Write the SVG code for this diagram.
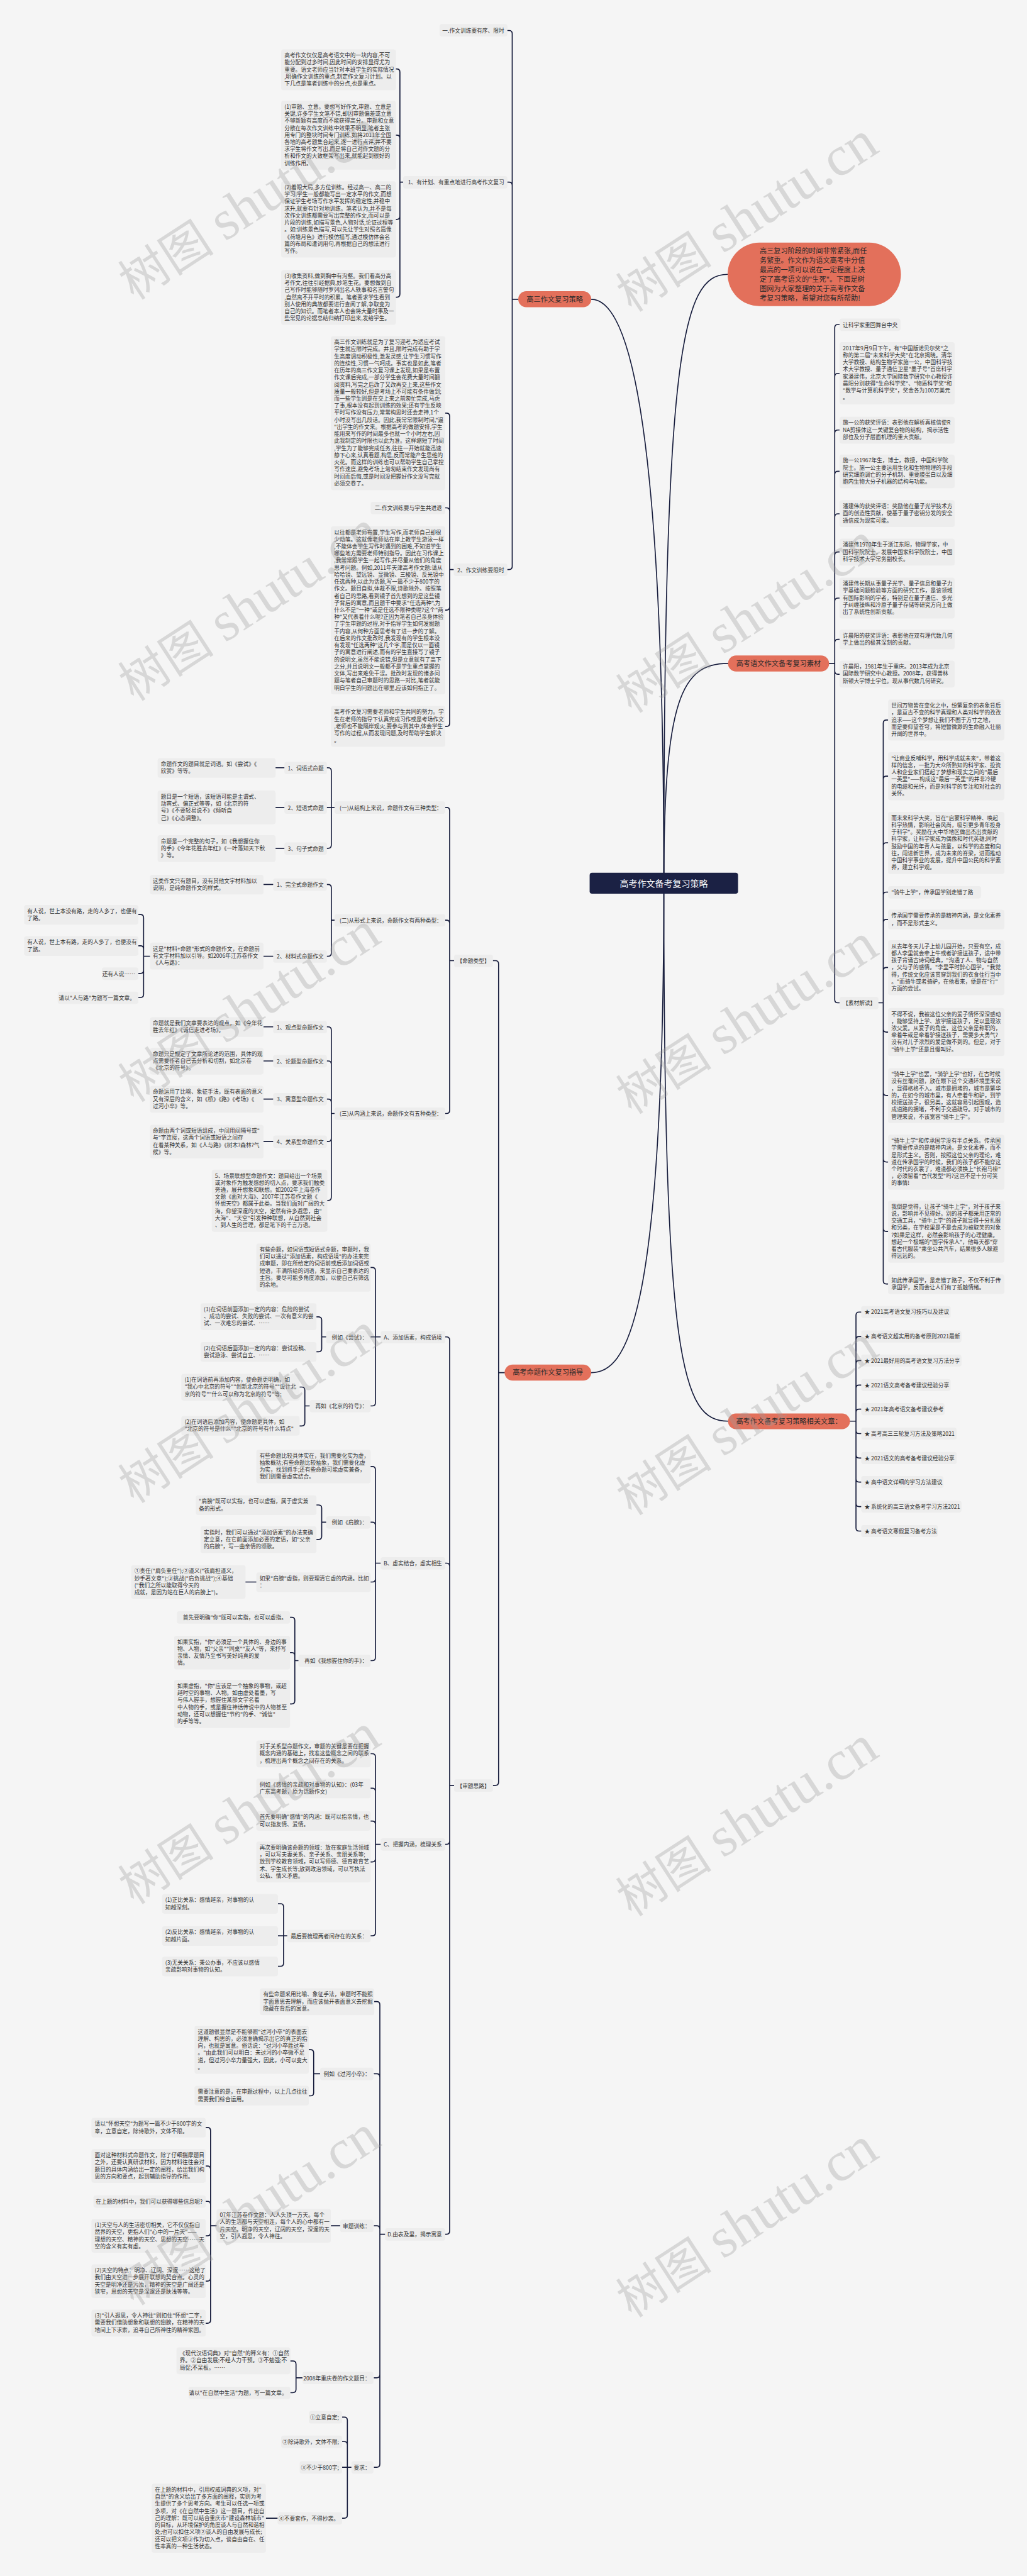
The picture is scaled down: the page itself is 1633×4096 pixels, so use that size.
<svg xmlns="http://www.w3.org/2000/svg" width="1633" height="4096" viewBox="0 0 1633 4096">
<defs>
<style>
.t{font-family:"Noto Sans CJK SC","Noto Sans",sans-serif;font-size:13.7px;fill:#333}
.e{text-anchor:end}
.tb{fill:#ededed}
.nd{fill:#e3705b}
.nt{font-family:"Noto Sans CJK SC","Noto Sans",sans-serif;font-size:17.6px;fill:#2a2a2a;text-anchor:middle}
.ln path{fill:none;stroke:#161c3c;stroke-width:2.6;stroke-linecap:round}
.wm{fill:#9a9a9a;fill-opacity:0.33}
.wc{font-family:"Noto Sans CJK SC",sans-serif;font-size:120px}
.ws{font-family:"Liberation Serif",serif;font-size:140px}
</style>
</defs>
<rect width="1633" height="4096" fill="#f5f5f5"/>
<g transform="scale(0.6378)">
<g id="connectors" class="ln">
<path d="M1655 2202C1655 1000 1560 746 1474 746"/>
<path d="M1655 2202C1655 3300 1560 3422 1474 3422"/>
<path d="M1655 2202C1655 880 1700 684 1814 684"/>
<path d="M1655 2202C1655 1740 1700 1654 1815 1654"/>
<path d="M1655 2202C1655 3400 1700 3543 1815 3543"/>
<path d="M1292 746H1277V84Q1277 76 1269 76H1265M1292 746H1277V462Q1277 454 1269 454H1265M1292 746H1277V1412Q1277 1420 1269 1420H1265"/>
<path d="M1005 454H997V180Q997 172 989 172H987M1005 454H997V345Q997 337 989 337H987M1005 454H997V539Q997 547 989 547H987M1005 454H997V733Q997 741 989 741H987"/>
<path d="M1131 1420H1121V1038Q1121 1030 1113 1030H1110M1131 1420H1121V1274Q1121 1266 1113 1266H1110M1131 1420H1121V1513Q1121 1521 1113 1521H1110M1131 1420H1121V1803Q1121 1811 1113 1811H1110"/>
<path d="M1258 3422H1243V2403Q1243 2395 1235 2395H1229M1258 3422H1243V4443Q1243 4451 1235 4451H1229"/>
<path d="M1132 2395H1121V2021Q1121 2013 1113 2013H1110M1132 2395H1121V2302Q1121 2294 1113 2294H1110M1132 2395H1121V2768Q1121 2776 1113 2776H1110"/>
<path d="M834 2013H826V1922Q826 1914 818 1914H815M834 2013H815M834 2013H826V2107Q826 2115 818 2115H815"/>
<path d="M834 2294H826V2213Q826 2205 818 2205H815M834 2294H826V2376Q826 2384 818 2384H815"/>
<path d="M834 2776H826V2568Q826 2560 818 2560H815M834 2776H826V2653Q826 2645 818 2645H815M834 2776H826V2748Q826 2740 818 2740H815M834 2776H826V2838Q826 2846 818 2846H815M834 2776H826V2985Q826 2993 818 2993H816"/>
<path d="M709 1914H687M709 2013H687M709 2115H687M681 2205H657M681 2384H657M681 2560H657M681 2645H657M681 2740H657M681 2846H657"/>
<path d="M374 2384H358V2288Q358 2280 350 2280H345M374 2384H358V2366Q358 2358 350 2358H345M374 2384H358V2419Q358 2427 350 2427H345M374 2384H358V2479Q358 2487 350 2487H345"/>
<path d="M1132 4451H1121V3341Q1121 3333 1113 3333H1110M1132 4451H1121V3905Q1121 3897 1113 3897H1110M1132 4451H1121V4590Q1121 4598 1113 4598H1110M1132 4451H1121V5562Q1121 5570 1113 5570H1110"/>
<path d="M949 3333H936V3168Q936 3160 928 3160H924M949 3333H924M949 3333H936V3497Q936 3505 928 3505H924"/>
<path d="M813 3333H802V3291Q802 3283 794 3283H789M813 3333H802V3362Q802 3370 794 3370H789"/>
<path d="M772 3505H760V3466Q760 3458 752 3458H747M772 3505H760V3547Q760 3555 752 3555H747"/>
<path d="M949 3897H936V3664Q936 3656 928 3656H924M949 3897H936V3803Q936 3795 928 3795H924M949 3897H936V3936Q936 3944 928 3944H924M949 3897H936V4132Q936 4140 928 4140H924"/>
<path d="M813 3795H802V3760Q802 3752 794 3752H789M813 3795H802V3830Q802 3838 794 3838H789M639 3944H612"/>
<path d="M744 4140H735V4040Q735 4032 727 4032H723M744 4140H735V4128Q735 4120 727 4120H723M744 4140H735V4240Q735 4248 727 4248H723"/>
<path d="M949 4598H936V4380Q936 4372 928 4372H924M949 4598H936V4466Q936 4458 928 4458H924M949 4598H936V4548Q936 4540 928 4540H924M949 4598H936V4634Q936 4642 928 4642H924M949 4598H936V4818Q936 4826 928 4826H924"/>
<path d="M717 4826H707V4754Q707 4746 699 4746H693M717 4826H693M717 4826H707V4894Q707 4902 699 4902H693"/>
<path d="M960 5570H947V4998Q947 4990 939 4990H933M960 5570H947V5178Q947 5170 939 5170H933M960 5570H947V5557Q947 5549 939 5549H933M960 5570H947V5920Q947 5928 939 5928H933M960 5570H947V6143Q947 6151 939 6151H933"/>
<path d="M798 5170H782V5118Q782 5110 774 5110H770M798 5170H782V5217Q782 5225 774 5225H770M848 5549H825"/>
<path d="M540 5549H525V5312Q525 5304 517 5304H513M540 5549H525V5408Q525 5400 517 5400H513M540 5549H525V5496Q525 5488 517 5488H513M540 5549H525V5566Q525 5574 517 5574H513M540 5549H525V5679Q525 5687 517 5687H513M540 5549H525V5784Q525 5792 517 5792H513"/>
<path d="M754 5928H738V5894Q738 5886 730 5886H724M754 5928H738V5957Q738 5965 730 5965H724"/>
<path d="M876 6151H866V6034Q866 6026 858 6026H853M876 6151H866V6095Q866 6087 858 6087H853M876 6151H853M876 6151H866V6270Q866 6278 858 6278H853M692 6278H663"/>
<path d="M2067 1654H2081V817Q2081 809 2089 809H2093M2067 1654H2081V939Q2081 931 2089 931H2093M2067 1654H2081V1080Q2081 1072 2089 1072H2093M2067 1654H2081V1183Q2081 1175 2089 1175H2093M2067 1654H2081V1289Q2081 1281 2089 1281H2093M2067 1654H2081V1384Q2081 1376 2089 1376H2093M2067 1654H2081V1499Q2081 1491 2089 1491H2093M2067 1654H2081V1602Q2081 1594 2089 1594H2093M2067 1654H2081V1673Q2081 1681 2089 1681H2093M2067 1654H2081V2492Q2081 2500 2089 2500H2093"/>
<path d="M2190 2500H2202V1803Q2202 1795 2210 1795H2214M2190 2500H2202V1943Q2202 1935 2210 1935H2214M2190 2500H2202V2109Q2202 2101 2210 2101H2214M2190 2500H2202V2232Q2202 2224 2210 2224H2214M2190 2500H2202V2300Q2202 2292 2210 2292H2214M2190 2500H2202V2420Q2202 2412 2210 2412H2214M2190 2500H2202V2565Q2202 2573 2210 2573H2214M2190 2500H2202V2723Q2202 2731 2210 2731H2214M2190 2500H2202V2889Q2202 2897 2210 2897H2214M2190 2500H2202V3062Q2202 3070 2210 3070H2214M2190 2500H2202V3193Q2202 3201 2210 3201H2214"/>
<path d="M2119 3543H2134V3279Q2134 3271 2142 3271H2147M2119 3543H2134V3340Q2134 3332 2142 3332H2147M2119 3543H2134V3400Q2134 3392 2142 3392H2147M2119 3543H2134V3461Q2134 3453 2142 3453H2147M2119 3543H2134V3521Q2134 3513 2142 3513H2147M2119 3543H2134V3566Q2134 3574 2142 3574H2147M2119 3543H2134V3627Q2134 3635 2142 3635H2147M2119 3543H2134V3687Q2134 3695 2142 3695H2147M2119 3543H2134V3748Q2134 3756 2142 3756H2147M2119 3543H2134V3809Q2134 3817 2142 3817H2147"/>
</g>

<g id="root"><rect x="1470" y="2176" width="370" height="52" rx="6" fill="#1b2144"/><text x="1655" y="2210" style="font-family:'Noto Sans CJK SC',sans-serif;font-size:22px;fill:#fff;text-anchor:middle">高考作文备考复习策略</text></g>

<g id="n-gaosan"><rect class="nd" x="1292" y="726" width="182" height="40" rx="20"/><text class="nt" x="1383" y="752">高三作文复习策略</text></g>
<g id="n-yi"><rect class="tb" x="1096" y="60" width="169" height="31" rx="6"/><text class="t e" x="1257" y="81">一.作文训练要有序、限时</text></g>
<g id="n-1plan"><rect class="tb" x="1005" y="439" width="260" height="31" rx="6"/><text class="t e" x="1257" y="460">1、有计划、有重点地进行高考作文复习</text></g>
<g id="n-A1"><rect class="tb" x="701" y="123" width="286" height="102" rx="6"/><text class="t" x="709" y="143"><tspan x="709">高考作文仅仅是高考语文中的一块内容,不可</tspan><tspan x="709" dy="17.6">能分配到过多时间,因此时间的安排显得尤为</tspan><tspan x="709" dy="17.6">重要。语文老师应当针对本班学生的实际情况</tspan><tspan x="709" dy="17.6">,明确作文训练的重点,制定作文复习计划。以</tspan><tspan x="709" dy="17.6">下几点是笔者训练中的分点,也是重点。</tspan></text></g>
<g id="n-B1"><rect class="tb" x="701" y="251" width="286" height="172" rx="6"/><text class="t" x="709" y="271"><tspan x="709">(1)审题、立意。要想写好作文,审题、立意是</tspan><tspan x="709" dy="17.6">关键,许多学生文笔不错,却因审题偏差或立意</tspan><tspan x="709" dy="17.6">不够新颖有高度而不能获得高分。审题和立意</tspan><tspan x="709" dy="17.6">分散在每次作文训练中效果不明显,笔者主张</tspan><tspan x="709" dy="17.6">用专门的整块时间专门训练,如将2011年全国</tspan><tspan x="709" dy="17.6">各地的高考题集合起来,逐一进行点评,并不要</tspan><tspan x="709" dy="17.6">求学生将作文写出,而是将自己对作文题的分</tspan><tspan x="709" dy="17.6">析和作文的大致框架写出来,就能起到很好的</tspan><tspan x="709" dy="17.6">训练作用。</tspan></text></g>
<g id="n-C1"><rect class="tb" x="701" y="452" width="286" height="190" rx="6"/><text class="t" x="709" y="472"><tspan x="709">(2)着眼大局,多方位训练。经过高一、高二的</tspan><tspan x="709" dy="17.6">学习,学生一般都能写出一定水平的作文,而想</tspan><tspan x="709" dy="17.6">保证学生考场写作水平发挥的稳定性,并稳中</tspan><tspan x="709" dy="17.6">求升,就要有针对地训练。笔者认为,并不是每</tspan><tspan x="709" dy="17.6">次作文训练都需要写出完整的作文,而可以是</tspan><tspan x="709" dy="17.6">片段的训练,如描写景色,人物对话,论证过程等</tspan><tspan x="709" dy="17.6">。如:训练景色描写,可以先让学生对照名篇像</tspan><tspan x="709" dy="17.6">《荷塘月色》进行模仿描写,通过模仿体会名</tspan><tspan x="709" dy="17.6">篇的布局和遣词用句,再根据自己的想法进行</tspan><tspan x="709" dy="17.6">写作。</tspan></text></g>
<g id="n-D1"><rect class="tb" x="701" y="673" width="286" height="137" rx="6"/><text class="t" x="709" y="693"><tspan x="709">(3)收集资料,做到胸中有沟壑。我们看高分高</tspan><tspan x="709" dy="17.6">考作文,往往引经据典,妙笔生花。要想做到自</tspan><tspan x="709" dy="17.6">己写作时能够随时罗列出名人轶事和名言警句</tspan><tspan x="709" dy="17.6">,自然离不开平时的积累。笔者要求学生看到</tspan><tspan x="709" dy="17.6">别人使用的典故都要进行查阅了解,争取变为</tspan><tspan x="709" dy="17.6">自己的知识。而笔者本人也会将大量时事及一</tspan><tspan x="709" dy="17.6">些常见的论据总结归纳打印出来,发给学生。</tspan></text></g>
<g id="n-2limit"><rect class="tb" x="1131" y="1405" width="134" height="31" rx="6"/><text class="t e" x="1257" y="1426">2、作文训练要限时</text></g>
<g id="n-E1"><rect class="tb" x="825" y="838" width="285" height="384" rx="6"/><text class="t" x="833" y="858"><tspan x="833">高三作文训练就是为了复习迎考,为适应考试</tspan><tspan x="833" dy="17.6">学生就应限时完成。并且,限时完成有助于学</tspan><tspan x="833" dy="17.6">生高度调动积极性,激发灵感,让学生习惯写作</tspan><tspan x="833" dy="17.6">的连续性,习惯一气呵成。事实也是如此,笔者</tspan><tspan x="833" dy="17.6">在历年的高三作文复习课上发现,如果是布置</tspan><tspan x="833" dy="17.6">作文课后完成,一部分学生会花费大量时间翻</tspan><tspan x="833" dy="17.6">阅资料,写完之后改了又改再交上来,这些作文</tspan><tspan x="833" dy="17.6">质量一般较好,但是考场上不可能有条件做到;</tspan><tspan x="833" dy="17.6">而一些学生则是在交上来之前匆忙完成,马虎</tspan><tspan x="833" dy="17.6">了事,根本没有起到训练的效果;还有学生反映</tspan><tspan x="833" dy="17.6">平时写作没有压力,常常构思时还会走神,1个</tspan><tspan x="833" dy="17.6">小时没写出几段话。因此,我常常限制时间,"逼</tspan><tspan x="833" dy="17.6">"出学生的作文来。根据高考的做题安排,学生</tspan><tspan x="833" dy="17.6">能用来写作的时间最多也就一个小时左右,因</tspan><tspan x="833" dy="17.6">此我制定的时限也以此为准。这样缩短了时间</tspan><tspan x="833" dy="17.6">,学生为了能够完成任务,往往一开始就能迅速</tspan><tspan x="833" dy="17.6">静下心来,认真看题,构思,反而常能产生思维的</tspan><tspan x="833" dy="17.6">火花。而这样的训练也可以帮助学生自己掌控</tspan><tspan x="833" dy="17.6">写作速度,避免考场上匆匆结束作文发现尚有</tspan><tspan x="833" dy="17.6">时间而后悔,或是时间没把握好作文没写完就</tspan><tspan x="833" dy="17.6">必须交卷了。</tspan></text></g>
<g id="n-er"><rect class="tb" x="924" y="1251" width="186" height="31" rx="6"/><text class="t e" x="1102" y="1272">二.作文训练要与学生共进退</text></g>
<g id="n-F1"><rect class="tb" x="825" y="1312" width="285" height="419" rx="6"/><text class="t" x="833" y="1332"><tspan x="833">以往都是老师布置,学生写作,而老师自己却很</tspan><tspan x="833" dy="17.6">少动笔。这就像老师站在岸上教学生游泳一样</tspan><tspan x="833" dy="17.6">,不能体会学生写作时遇到的困难,不知道学生</tspan><tspan x="833" dy="17.6">哪些地方需要老师特别指导。因此在习作课上</tspan><tspan x="833" dy="17.6">,我常常跟学生一起写作,并尽量从他们的角度</tspan><tspan x="833" dy="17.6">思考问题。例如,2011年天津高考作文题:请从</tspan><tspan x="833" dy="17.6">哈哈镜、望远镜、显微镜、三棱镜、反光镜中</tspan><tspan x="833" dy="17.6">任选两种,以此为话题,写一篇不少于800字的</tspan><tspan x="833" dy="17.6">作文。题目自拟,体裁不限,诗歌除外。按照笔</tspan><tspan x="833" dy="17.6">者自己的思路,看到镜子首先想到的是这些镜</tspan><tspan x="833" dy="17.6">子背后的寓意,而且题干中要求"任选两种",为</tspan><tspan x="833" dy="17.6">什么不是"一种"或是任选不限种类呢?这个"两</tspan><tspan x="833" dy="17.6">种"又代表着什么呢?正因为笔者自己亲身体验</tspan><tspan x="833" dy="17.6">了学生审题的过程,对于指导学生如何发掘题</tspan><tspan x="833" dy="17.6">干内容,从何种方面思考有了进一步的了解。</tspan><tspan x="833" dy="17.6">在后来的作文批改时,我发现有的学生根本没</tspan><tspan x="833" dy="17.6">有发现"任选两种"这几个字,而是仅以一面镜</tspan><tspan x="833" dy="17.6">子的寓意进行阐述,而有的学生直接写了镜子</tspan><tspan x="833" dy="17.6">的说明文,虽然不能说错,但是立意就有了高下</tspan><tspan x="833" dy="17.6">之分,并且说明文一般都不是学生重点掌握的</tspan><tspan x="833" dy="17.6">文体,写出来难免干涩。批改时发现的诸多问</tspan><tspan x="833" dy="17.6">题与笔者自己审题时的思路一对比,笔者就能</tspan><tspan x="833" dy="17.6">明白学生的问题出在哪里,应该如何指正了。</tspan></text></g>
<g id="n-G1"><rect class="tb" x="825" y="1760" width="285" height="102" rx="6"/><text class="t" x="833" y="1780"><tspan x="833">高考作文复习需要老师和学生共同的努力。学</tspan><tspan x="833" dy="17.6">生在老师的指导下认真完成习作或是考场作文</tspan><tspan x="833" dy="17.6">,老师也不能隔岸观火,要参与到其中,体会学生</tspan><tspan x="833" dy="17.6">写作的过程,从而发现问题,及时帮助学生解决</tspan><tspan x="833" dy="17.6">。</tspan></text></g>

<g id="n-mingti"><rect class="nd" x="1258" y="3402" width="216" height="40" rx="20"/><text class="nt" x="1366" y="3428">高考命题作文复习指导</text></g>
<g id="n-lx"><rect class="tb" x="1132" y="2380" width="97" height="31" rx="6"/><text class="t e" x="1221" y="2401">【命题类型】</text></g>
<g id="n-s1"><rect class="tb" x="834" y="1998" width="276" height="31" rx="6"/><text class="t e" x="1102" y="2019">(一)从结构上来说，命题作文有三种类型：</text></g>
<g id="n-s2"><rect class="tb" x="834" y="2279" width="276" height="31" rx="6"/><text class="t e" x="1102" y="2300">(二)从形式上来说，命题作文有两种类型：</text></g>
<g id="n-s3"><rect class="tb" x="834" y="2761" width="276" height="31" rx="6"/><text class="t e" x="1102" y="2782">(三)从内涵上来说，命题作文有五种类型：</text></g>
<g id="n-ci"><rect class="tb" x="709" y="1899" width="106" height="31" rx="6"/><text class="t e" x="807" y="1920">1、词语式命题</text></g>
<g id="n-duan"><rect class="tb" x="709" y="1998" width="106" height="31" rx="6"/><text class="t e" x="807" y="2019">2、短语式命题</text></g>
<g id="n-ju"><rect class="tb" x="709" y="2100" width="106" height="31" rx="6"/><text class="t e" x="807" y="2121">3、句子式命题</text></g>
<g id="n-ci-t"><rect class="tb" x="393" y="1890" width="294" height="49" rx="6"/><text class="t" x="401" y="1910"><tspan x="401">命题作文的题目就是词语。如《尝试》《</tspan><tspan x="401" dy="17.6">欣赏》等等。</tspan></text></g>
<g id="n-duan-t"><rect class="tb" x="393" y="1971" width="294" height="84" rx="6"/><text class="t" x="401" y="1991"><tspan x="401">题目是一个短语，该短语可能是主谓式、</tspan><tspan x="401" dy="17.6">动宾式、偏正式等等，如《北京的符</tspan><tspan x="401" dy="17.6">号》《不要轻易说不》《倾听自</tspan><tspan x="401" dy="17.6">己》《心态调整》。</tspan></text></g>
<g id="n-ju-t"><rect class="tb" x="393" y="2082" width="294" height="67" rx="6"/><text class="t" x="401" y="2102"><tspan x="401">命题是一个完整的句子，如《我想握住你</tspan><tspan x="401" dy="17.6">的手》《今年花胜去年红》《一叶落知天下秋</tspan><tspan x="401" dy="17.6">》等。</tspan></text></g>
<g id="n-wq"><rect class="tb" x="681" y="2190" width="134" height="31" rx="6"/><text class="t e" x="807" y="2211">1、完全式命题作文</text></g>
<g id="n-wq-t"><rect class="tb" x="374" y="2181" width="283" height="49" rx="6"/><text class="t" x="381" y="2201"><tspan x="381">这类作文只有题目，没有其他文字材料加以</tspan><tspan x="381" dy="17.6">说明，是纯命题作文的样式。</tspan></text></g>
<g id="n-cl"><rect class="tb" x="681" y="2369" width="134" height="31" rx="6"/><text class="t e" x="807" y="2390">2、材料式命题作文</text></g>
<g id="n-cl-t"><rect class="tb" x="374" y="2350" width="283" height="67" rx="6"/><text class="t" x="381" y="2370"><tspan x="381">这是"材料+命题"形式的命题作文，在命题前</tspan><tspan x="381" dy="17.6">有文字材料加以引导。如2006年江苏卷作文</tspan><tspan x="381" dy="17.6">《人与路》：</tspan></text></g>
<g id="n-lu1"><rect class="tb" x="60" y="2256" width="285" height="49" rx="6"/><text class="t" x="68" y="2276"><tspan x="68">有人说，世上本没有路，走的人多了，也便有</tspan><tspan x="68" dy="17.6">了路。</tspan></text></g>
<g id="n-lu2"><rect class="tb" x="60" y="2334" width="285" height="49" rx="6"/><text class="t" x="68" y="2354"><tspan x="68">有人说，世上本有路，走的人多了，也便没有</tspan><tspan x="68" dy="17.6">了路。</tspan></text></g>
<g id="n-lu3"><rect class="tb" x="254" y="2412" width="91" height="31" rx="6"/><text class="t e" x="337" y="2433">还有人说……</text></g>
<g id="n-lu4"><rect class="tb" x="144" y="2472" width="201" height="31" rx="6"/><text class="t e" x="337" y="2493">请以"人与路"为题写一篇文章。</text></g>
<g id="n-gd"><rect class="tb" x="681" y="2545" width="134" height="31" rx="6"/><text class="t e" x="807" y="2566">1、观点型命题作文</text></g>
<g id="n-gd-t"><rect class="tb" x="374" y="2536" width="283" height="49" rx="6"/><text class="t" x="381" y="2556"><tspan x="381">命题就是我们文章要表达的观点，如《今年花</tspan><tspan x="381" dy="17.6">胜去年红》《诚信走进考场》。</tspan></text></g>
<g id="n-lt"><rect class="tb" x="681" y="2630" width="134" height="31" rx="6"/><text class="t e" x="807" y="2651">2、论题型命题作文</text></g>
<g id="n-lt-t"><rect class="tb" x="374" y="2612" width="283" height="67" rx="6"/><text class="t" x="381" y="2632"><tspan x="381">命题只是规定了文章所论述的范围，具体的观</tspan><tspan x="381" dy="17.6">点需要作者自己去分析和切割，如北京卷</tspan><tspan x="381" dy="17.6">《北京的符号》。</tspan></text></g>
<g id="n-yy"><rect class="tb" x="681" y="2725" width="134" height="31" rx="6"/><text class="t e" x="807" y="2746">3、寓意型命题作文</text></g>
<g id="n-yy-t"><rect class="tb" x="374" y="2707" width="283" height="67" rx="6"/><text class="t" x="381" y="2727"><tspan x="381">命题运用了比喻、象征手法，既有表面的意义</tspan><tspan x="381" dy="17.6">又有深层的含义，如《桥》《路》《考场》《</tspan><tspan x="381" dy="17.6">过河小卒》等。</tspan></text></g>
<g id="n-gx"><rect class="tb" x="681" y="2831" width="134" height="31" rx="6"/><text class="t e" x="807" y="2852">4、关系型命题作文</text></g>
<g id="n-gx-t"><rect class="tb" x="374" y="2804" width="283" height="84" rx="6"/><text class="t" x="381" y="2824"><tspan x="381">命题由两个词或短语组成，中间用间隔号或"</tspan><tspan x="381" dy="17.6">与"字连接，这两个词语或短语之间存</tspan><tspan x="381" dy="17.6">在着某种关系，如《人与路》《树木?森林?气</tspan><tspan x="381" dy="17.6">候》等。</tspan></text></g>
<g id="n-cj"><rect class="tb" x="528" y="2916" width="288" height="155" rx="6"/><text class="t" x="536" y="2936"><tspan x="536">5、场景联想型命题作文：题目给出一个场景</tspan><tspan x="536" dy="17.6">或对象作为触发感想的切入点，要求我们触类</tspan><tspan x="536" dy="17.6">旁通，展开想象和联想。如2002年上海卷作</tspan><tspan x="536" dy="17.6">文题《面对大海》、2007年江苏卷作文题《</tspan><tspan x="536" dy="17.6">怀想天空》都属于此类。当我们面对广阔的大</tspan><tspan x="536" dy="17.6">海，仰望深邃的天空，定然有许多遐思，由"</tspan><tspan x="536" dy="17.6">大海"、"天空"引发种种联想，从自然到社会</tspan><tspan x="536" dy="17.6">、到人生的哲理，都是笔下的千言万语。</tspan></text></g>

<g id="n-sl"><rect class="tb" x="1132" y="4436" width="97" height="31" rx="6"/><text class="t e" x="1221" y="4457">【审题思路】</text></g>
<g id="n-A"><rect class="tb" x="949" y="3318" width="161" height="31" rx="6"/><text class="t e" x="1102" y="3339">A、添加语素，构成语境</text></g>
<g id="n-A0"><rect class="tb" x="639" y="3100" width="285" height="120" rx="6"/><text class="t" x="647" y="3120"><tspan x="647">有些命题，如词语或短语式命题，审题时，我</tspan><tspan x="647" dy="17.6">们可以通过"添加语素，构成语境"的办法来完</tspan><tspan x="647" dy="17.6">成审题，即在所给定的词语前或后添加词语或</tspan><tspan x="647" dy="17.6">短语，丰满所给的词语，来显示自己要表达的</tspan><tspan x="647" dy="17.6">主旨。要尽可能多角度添加，以便自己有筛选</tspan><tspan x="647" dy="17.6">的余地。</tspan></text></g>
<g id="n-cs"><rect class="tb" x="813" y="3318" width="111" height="31" rx="6"/><text class="t e" x="916" y="3339">例如《尝试》：</text></g>
<g id="n-cs1"><rect class="tb" x="500" y="3249" width="289" height="67" rx="6"/><text class="t" x="508" y="3269"><tspan x="508">(1)在词语前面添加一定的内容：危险的尝试</tspan><tspan x="508" dy="17.6">、成功的尝试、失败的尝试、一次有意义的尝</tspan><tspan x="508" dy="17.6">试、一次难忘的尝试、……</tspan></text></g>
<g id="n-cs2"><rect class="tb" x="500" y="3346" width="289" height="49" rx="6"/><text class="t" x="508" y="3366"><tspan x="508">(2)在词语后面添加一定的内容：尝试投稿、</tspan><tspan x="508" dy="17.6">尝试游泳、尝试自立、……</tspan></text></g>
<g id="n-bj"><rect class="tb" x="772" y="3490" width="152" height="31" rx="6"/><text class="t e" x="916" y="3511">再如《北京的符号》：</text></g>
<g id="n-bj1"><rect class="tb" x="452" y="3425" width="295" height="67" rx="6"/><text class="t" x="460" y="3445"><tspan x="460">(1)在词语前再添加内容，使命题更明确，如</tspan><tspan x="460" dy="17.6">"我心中北京的符号""创新北京的符号""设计北</tspan><tspan x="460" dy="17.6">京的符号""什么可以称为北京的符号"等;</tspan></text></g>
<g id="n-bj2"><rect class="tb" x="452" y="3530" width="295" height="49" rx="6"/><text class="t" x="460" y="3550"><tspan x="460">(2)在词语后添加内容，使命题更具体，如</tspan><tspan x="460" dy="17.6">"北京的符号是什么""北京的符号有什么特点"</tspan></text></g>
<g id="n-B"><rect class="tb" x="949" y="3882" width="161" height="31" rx="6"/><text class="t e" x="1102" y="3903">B、虚实结合，虚实相生</text></g>
<g id="n-B0"><rect class="tb" x="639" y="3614" width="285" height="84" rx="6"/><text class="t" x="647" y="3634"><tspan x="647">有些命题比较具体实在，我们需要化实为虚，</tspan><tspan x="647" dy="17.6">抽象概括;有些命题比较抽象，我们需要化虚</tspan><tspan x="647" dy="17.6">为实，找到抓手;还有些命题可能虚实兼备，</tspan><tspan x="647" dy="17.6">我们则需要虚实结合。</tspan></text></g>
<g id="n-jb"><rect class="tb" x="813" y="3780" width="111" height="31" rx="6"/><text class="t e" x="916" y="3801">例如《肩膀》：</text></g>
<g id="n-jb1"><rect class="tb" x="488" y="3728" width="301" height="49" rx="6"/><text class="t" x="496" y="3748"><tspan x="496">"肩膀"既可以实指，也可以虚指，属于虚实兼</tspan><tspan x="496" dy="17.6">备的形式。</tspan></text></g>
<g id="n-jb2"><rect class="tb" x="500" y="3805" width="289" height="67" rx="6"/><text class="t" x="508" y="3825"><tspan x="508">实指时，我们可以通过"添加语素"的办法来确</tspan><tspan x="508" dy="17.6">定立意，在它前面添加必要的定语，如"父亲</tspan><tspan x="508" dy="17.6">的肩膀"，写一曲亲情的颂歌。</tspan></text></g>
<g id="n-xz"><rect class="tb" x="639" y="3920" width="285" height="49" rx="6"/><text class="t" x="647" y="3940"><tspan x="647">如果"肩膀"虚指，则要理清它虚的内涵。比如</tspan><tspan x="647" dy="17.6">：</tspan></text></g>
<g id="n-xz1"><rect class="tb" x="327" y="3902" width="285" height="84" rx="6"/><text class="t" x="335" y="3922"><tspan x="335">①责任("肩负重任");②道义("铁肩担道义，</tspan><tspan x="335" dy="17.6">妙手著文章");③挑战("肩负挑战");④基础</tspan><tspan x="335" dy="17.6">("我们之所以能取得今天的</tspan><tspan x="335" dy="17.6">成就，是因为站在巨人的肩膀上")。</tspan></text></g>
<g id="n-ws"><rect class="tb" x="744" y="4125" width="180" height="31" rx="6"/><text class="t e" x="916" y="4146">再如《我想握住你的手》：</text></g>
<g id="n-ws1"><rect class="tb" x="441" y="4017" width="282" height="31" rx="6"/><text class="t e" x="715" y="4038">首先要明确"你"既可以实指，也可以虚指。</text></g>
<g id="n-ws2"><rect class="tb" x="434" y="4078" width="289" height="84" rx="6"/><text class="t" x="442" y="4098"><tspan x="442">如果实指，"你"必须是一个具体的、身边的事</tspan><tspan x="442" dy="17.6">物、人物，如"父亲""同桌""友人"等，来抒写</tspan><tspan x="442" dy="17.6">亲情、友情乃至书写美好纯真的爱</tspan><tspan x="442" dy="17.6">情。</tspan></text></g>
<g id="n-ws3"><rect class="tb" x="434" y="4188" width="289" height="120" rx="6"/><text class="t" x="442" y="4208"><tspan x="442">如果虚指，"你"应该是一个抽象的事物，或超</tspan><tspan x="442" dy="17.6">越时空的事物、人物。如由虚处着墨，写</tspan><tspan x="442" dy="17.6">与伟人握手，想握住某部文学名着</tspan><tspan x="442" dy="17.6">中人物的手，或是握住神话传说中的人物甚至</tspan><tspan x="442" dy="17.6">动物，还可以想握住"节约"的手、"诚信"</tspan><tspan x="442" dy="17.6">的手等等。</tspan></text></g>
<g id="n-C"><rect class="tb" x="949" y="4583" width="161" height="31" rx="6"/><text class="t e" x="1102" y="4604">C、把握内涵，梳理关系</text></g>
<g id="n-Cc1"><rect class="tb" x="639" y="4339" width="285" height="67" rx="6"/><text class="t" x="647" y="4359"><tspan x="647">对于关系型命题作文，审题的关键是要在把握</tspan><tspan x="647" dy="17.6">概念内涵的基础上，找准这些概念之间的联系</tspan><tspan x="647" dy="17.6">，梳理出两个概念之间存在的关系。</tspan></text></g>
<g id="n-Cc2"><rect class="tb" x="639" y="4434" width="285" height="49" rx="6"/><text class="t" x="647" y="4454"><tspan x="647">例如《感情的亲疏和对事物的认知》：(03年</tspan><tspan x="647" dy="17.6">广东高考题，原为话题作文)</tspan></text></g>
<g id="n-Cc3"><rect class="tb" x="639" y="4515" width="285" height="49" rx="6"/><text class="t" x="647" y="4535"><tspan x="647">首先要明确"感情"的内涵：既可以指亲情，也</tspan><tspan x="647" dy="17.6">可以指友情、爱情。</tspan></text></g>
<g id="n-Cc4"><rect class="tb" x="639" y="4591" width="285" height="102" rx="6"/><text class="t" x="647" y="4611"><tspan x="647">再次要明确该命题的领域：放在家庭生活领域</tspan><tspan x="647" dy="17.6">，可以写夫妻关系、亲子关系、亲朋关系等;</tspan><tspan x="647" dy="17.6">放到学校教育领域，可以写师德、德育教育艺</tspan><tspan x="647" dy="17.6">术、学生成长等;放到政治领域，可以写执法</tspan><tspan x="647" dy="17.6">公私、情义矛盾。</tspan></text></g>
<g id="n-Cc5"><rect class="tb" x="716" y="4811" width="208" height="31" rx="6"/><text class="t e" x="916" y="4832">最后要梳理两者间存在的关系：</text></g>
<g id="n-Cc51"><rect class="tb" x="404" y="4722" width="289" height="49" rx="6"/><text class="t" x="412" y="4742"><tspan x="412">(1)正比关系：感情越亲，对事物的认</tspan><tspan x="412" dy="17.6">知越深刻。</tspan></text></g>
<g id="n-Cc52"><rect class="tb" x="404" y="4802" width="289" height="49" rx="6"/><text class="t" x="412" y="4822"><tspan x="412">(2)反比关系：感情越亲，对事物的认</tspan><tspan x="412" dy="17.6">知越片面。</tspan></text></g>
<g id="n-Cc53"><rect class="tb" x="404" y="4878" width="289" height="49" rx="6"/><text class="t" x="412" y="4898"><tspan x="412">(3)无关关系：秉公办事，不应该以感情</tspan><tspan x="412" dy="17.6">亲疏影响对事物的认知。</tspan></text></g>
<g id="n-D"><rect class="tb" x="960" y="5555" width="150" height="31" rx="6"/><text class="t e" x="1102" y="5576">D.由表及里，揭示寓意</text></g>
<g id="n-D0"><rect class="tb" x="648" y="4957" width="285" height="67" rx="6"/><text class="t" x="656" y="4977"><tspan x="656">有些命题采用比喻、象征手法，审题时不能照</tspan><tspan x="656" dy="17.6">字面意思去理解，而应该抛开表面意义去挖掘</tspan><tspan x="656" dy="17.6">隐藏在背后的寓意。</tspan></text></g>
<g id="n-gh"><rect class="tb" x="798" y="5155" width="133" height="31" rx="6"/><text class="t e" x="923" y="5176">例如《过河小卒》：</text></g>
<g id="n-gh1"><rect class="tb" x="485" y="5050" width="285" height="120" rx="6"/><text class="t" x="493" y="5070"><tspan x="493">这道题很显然是不能够照"过河小卒"的表面去</tspan><tspan x="493" dy="17.6">理解、构思的，必须准确揭示出它的真正的指</tspan><tspan x="493" dy="17.6">向，也就是寓意。俗话说："过河小卒胜过车</tspan><tspan x="493" dy="17.6">。"由此我们可以明白：未过河的小卒微不足</tspan><tspan x="493" dy="17.6">道，但过河小卒力量强大，因此，小可以变大</tspan><tspan x="493" dy="17.6">。</tspan></text></g>
<g id="n-gh2"><rect class="tb" x="485" y="5200" width="285" height="49" rx="6"/><text class="t" x="493" y="5220"><tspan x="493">需要注意的是，在审题过程中，以上几点往往</tspan><tspan x="493" dy="17.6">需要我们综合运用。</tspan></text></g>
<g id="n-st"><rect class="tb" x="848" y="5534" width="83" height="31" rx="6"/><text class="t e" x="923" y="5555">审题训练：</text></g>
<g id="n-js"><rect class="tb" x="540" y="5507" width="285" height="84" rx="6"/><text class="t" x="548" y="5527"><tspan x="548">07年江苏卷作文题：人人头顶一方天。每个</tspan><tspan x="548" dy="17.6">人的生活都与天空相连，每个人的心中都有一</tspan><tspan x="548" dy="17.6">片天空。明净的天空，辽阔的天空，深邃的天</tspan><tspan x="548" dy="17.6">空，引人遐思，令人神往。</tspan></text></g>
<g id="n-js1"><rect class="tb" x="228" y="5280" width="285" height="49" rx="6"/><text class="t" x="236" y="5300"><tspan x="236">请以"怀想天空"为题写一篇不少于800字的文</tspan><tspan x="236" dy="17.6">章，立意自定，除诗歌外，文体不限。</tspan></text></g>
<g id="n-js2"><rect class="tb" x="228" y="5358" width="285" height="84" rx="6"/><text class="t" x="236" y="5378"><tspan x="236">面对这种材料式命题作文，除了仔细揣摩题目</tspan><tspan x="236" dy="17.6">之外，还要认真研读材料，因为材料往往会对</tspan><tspan x="236" dy="17.6">题目的具体内涵给出一定的阐释，给出我们构</tspan><tspan x="236" dy="17.6">思的方向和要点，起到辅助指导的作用。</tspan></text></g>
<g id="n-js3"><rect class="tb" x="233" y="5473" width="280" height="31" rx="6"/><text class="t e" x="505" y="5494">在上题的材料中，我们可以获得哪些信息呢?</text></g>
<g id="n-js4"><rect class="tb" x="228" y="5532" width="285" height="84" rx="6"/><text class="t" x="236" y="5552"><tspan x="236">(1)天空与人的生活密切相关，它不仅仅指自</tspan><tspan x="236" dy="17.6">然界的天空，更指人们"心中的一片天"——</tspan><tspan x="236" dy="17.6">理想的天空、精神的天空、思想的天空……天</tspan><tspan x="236" dy="17.6">空的含义有实有虚。</tspan></text></g>
<g id="n-js5"><rect class="tb" x="228" y="5645" width="285" height="84" rx="6"/><text class="t" x="236" y="5665"><tspan x="236">(2)天空的特点：明净、辽阔、深邃……这给了</tspan><tspan x="236" dy="17.6">我们由天空进一步展开联想的契合点。心灵的</tspan><tspan x="236" dy="17.6">天空是明净还是污浊，精神的天空是广阔还是</tspan><tspan x="236" dy="17.6">狭窄，思想的天空是深邃还是肤浅等等。</tspan></text></g>
<g id="n-js6"><rect class="tb" x="228" y="5758" width="285" height="67" rx="6"/><text class="t" x="236" y="5778"><tspan x="236">(3)"引人遐思，令人神往"则扣住"怀想"二字，</tspan><tspan x="236" dy="17.6">需要我们借助想象和联想的翅膀，在精神的天</tspan><tspan x="236" dy="17.6">地间上下求索，追寻自己所神往的精神家园。</tspan></text></g>
<g id="n-cq"><rect class="tb" x="754" y="5913" width="177" height="31" rx="6"/><text class="t e" x="923" y="5934">2008年重庆卷的作文题目：</text></g>
<g id="n-cq1"><rect class="tb" x="440" y="5852" width="284" height="67" rx="6"/><text class="t" x="448" y="5872"><tspan x="448">《现代汉语词典》对"自然"的释义有：①自然</tspan><tspan x="448" dy="17.6">界。②自由发展;不经人力干预。③不勉强;不</tspan><tspan x="448" dy="17.6">局促;不呆板。……</tspan></text></g>
<g id="n-cq2"><rect class="tb" x="470" y="5950" width="254" height="31" rx="6"/><text class="t e" x="716" y="5971">请以"在自然中生活"为题，写一篇文章。</text></g>
<g id="n-yq"><rect class="tb" x="876" y="6136" width="55" height="31" rx="6"/><text class="t e" x="923" y="6157">要求：</text></g>
<g id="n-yq1"><rect class="tb" x="770" y="6011" width="83" height="31" rx="6"/><text class="t e" x="845" y="6032">①立意自定;</text></g>
<g id="n-yq2"><rect class="tb" x="701" y="6072" width="152" height="31" rx="6"/><text class="t e" x="845" y="6093">②除诗歌外，文体不限;</text></g>
<g id="n-yq3"><rect class="tb" x="747" y="6136" width="106" height="31" rx="6"/><text class="t e" x="845" y="6157">③不少于800字;</text></g>
<g id="n-yq4"><rect class="tb" x="692" y="6263" width="161" height="31" rx="6"/><text class="t e" x="845" y="6284">④不要套作，不得抄袭。</text></g>
<g id="n-yq4t"><rect class="tb" x="378" y="6192" width="285" height="172" rx="6"/><text class="t" x="386" y="6212"><tspan x="386">在上题的材料中，引用权威词典的义项，对"</tspan><tspan x="386" dy="17.6">自然"的含义给出了多方面的阐释，实则为考</tspan><tspan x="386" dy="17.6">生提供了多个思考方向。考生可以任选一项或</tspan><tspan x="386" dy="17.6">多项，对《在自然中生活》这一题目，作出自</tspan><tspan x="386" dy="17.6">己的理解：既可以结合重庆市"建设森林城市"</tspan><tspan x="386" dy="17.6">的目标，从环境保护的角度谈人与自然和谐相</tspan><tspan x="386" dy="17.6">处;也可以扣住义项②谈人的自由发展与成长;</tspan><tspan x="386" dy="17.6">还可以把义项③作为切入点，谈自由自在、任</tspan><tspan x="386" dy="17.6">性率真的一种生活状态。</tspan></text></g>

<g id="n-summary"><rect class="nd" x="1814" y="605" width="432" height="158" rx="79"/><text x="1894" y="632" style="font-family:'Noto Sans CJK SC',sans-serif;font-size:17.5px;fill:#2a2a2a"><tspan x="1894">高三复习阶段的时间非常紧张,而任</tspan><tspan x="1894" dy="23.5">务繁重。作文作为语文高考中分值</tspan><tspan x="1894" dy="23.5">最高的一项可以说在一定程度上决</tspan><tspan x="1894" dy="23.5">定了高考语文的"生死"。下面是树</tspan><tspan x="1894" dy="23.5">图网为大家整理的关于高考作文备</tspan><tspan x="1894" dy="23.5">考复习策略，希望对您有所帮助!</tspan></text></g>

<g id="n-sucai"><rect class="nd" x="1815" y="1634" width="252" height="40" rx="20"/><text class="nt" x="1941" y="1660">高考语文作文备考复习素材</text></g>
<g id="n-r1"><rect class="tb" x="2093" y="794" width="152" height="31" rx="6"/><text class="t" x="2101" y="815">让科学家重回舞台中央</text></g>
<g id="n-r2"><rect class="tb" x="2093" y="853" width="287" height="155" rx="6"/><text class="t" x="2101" y="873"><tspan x="2101">2017年9月9日下午，有"中国版诺贝尔奖"之</tspan><tspan x="2101" dy="17.6">称的第二届"未来科学大奖"在北京揭晓。清华</tspan><tspan x="2101" dy="17.6">大学教授、结构生物学家施一公，中国科学技</tspan><tspan x="2101" dy="17.6">术大学教授、量子通信卫星"墨子号"首席科学</tspan><tspan x="2101" dy="17.6">家潘建伟，北京大学国际数学研究中心教授许</tspan><tspan x="2101" dy="17.6">晨阳分别获得"生命科学奖"、"物质科学奖"和</tspan><tspan x="2101" dy="17.6">"数学与计算机科学奖"，奖金各为100万美元</tspan><tspan x="2101" dy="17.6">。</tspan></text></g>
<g id="n-r3"><rect class="tb" x="2093" y="1039" width="287" height="67" rx="6"/><text class="t" x="2101" y="1059"><tspan x="2101">施一公的获奖评语：表彰他在解析真核信使R</tspan><tspan x="2101" dy="17.6">NA剪接体这一关键复合物的结构，揭示活性</tspan><tspan x="2101" dy="17.6">部位及分子层面机理的重大贡献。</tspan></text></g>
<g id="n-r4"><rect class="tb" x="2093" y="1133" width="287" height="84" rx="6"/><text class="t" x="2101" y="1153"><tspan x="2101">施一公1967年生，博士，教授，中国科学院</tspan><tspan x="2101" dy="17.6">院士。施一公主要运用生化和生物物理的手段</tspan><tspan x="2101" dy="17.6">研究细胞调亡的分子机制、重要膜蛋白以及细</tspan><tspan x="2101" dy="17.6">胞内生物大分子机器的结构与功能。</tspan></text></g>
<g id="n-r5"><rect class="tb" x="2093" y="1247" width="287" height="67" rx="6"/><text class="t" x="2101" y="1267"><tspan x="2101">潘建伟的获奖评语：奖励他在量子光学技术方</tspan><tspan x="2101" dy="17.6">面的创造性贡献，使基于量子密钥分发的安全</tspan><tspan x="2101" dy="17.6">通信成为现实可能。</tspan></text></g>
<g id="n-r6"><rect class="tb" x="2093" y="1343" width="287" height="67" rx="6"/><text class="t" x="2101" y="1363"><tspan x="2101">潘建伟1970年生于浙江东阳，物理学家，中</tspan><tspan x="2101" dy="17.6">国科学院院士，发展中国家科学院院士，中国</tspan><tspan x="2101" dy="17.6">科学技术大学常务副校长。</tspan></text></g>
<g id="n-r7"><rect class="tb" x="2093" y="1440" width="287" height="102" rx="6"/><text class="t" x="2101" y="1460"><tspan x="2101">潘建伟长期从事量子光学、量子信息和量子力</tspan><tspan x="2101" dy="17.6">学基础问题检验等方面的研究工作，是该领域</tspan><tspan x="2101" dy="17.6">有国际影响的学者，特别是在量子通信、多光</tspan><tspan x="2101" dy="17.6">子纠缠操纵和冷原子量子存储等研究方向上做</tspan><tspan x="2101" dy="17.6">出了系统性创新贡献。</tspan></text></g>
<g id="n-r8"><rect class="tb" x="2093" y="1570" width="287" height="49" rx="6"/><text class="t" x="2101" y="1590"><tspan x="2101">许晨阳的获奖评语：表彰他在双有理代数几何</tspan><tspan x="2101" dy="17.6">学上做出的极其深刻的贡献。</tspan></text></g>
<g id="n-r9"><rect class="tb" x="2093" y="1647" width="287" height="67" rx="6"/><text class="t" x="2101" y="1667"><tspan x="2101">许晨阳，1981年生于重庆。2013年成为北京</tspan><tspan x="2101" dy="17.6">国际数学研究中心教授。2008年，获得普林</tspan><tspan x="2101" dy="17.6">斯顿大学博士学位。现从事代数几何研究。</tspan></text></g>
<g id="n-jd"><rect class="tb" x="2093" y="2485" width="97" height="31" rx="6"/><text class="t" x="2101" y="2506">【素材解读】</text></g>
<g id="n-j1"><rect class="tb" x="2214" y="1744" width="290" height="102" rx="6"/><text class="t" x="2222" y="1764"><tspan x="2222">世间万物皆在变化之中，纷繁复杂的表象背后</tspan><tspan x="2222" dy="17.6">，是亘古不变的科学真理和人类对科学的孜孜</tspan><tspan x="2222" dy="17.6">追求——这个梦想让我们不囿于方寸之地，</tspan><tspan x="2222" dy="17.6">而是要仰望苍穹，将短暂微渺的生命融入壮丽</tspan><tspan x="2222" dy="17.6">开阔的世界中。</tspan></text></g>
<g id="n-j2"><rect class="tb" x="2214" y="1875" width="290" height="120" rx="6"/><text class="t" x="2222" y="1895"><tspan x="2222">"让商业反哺科学，用科学成就未来"，带着这</tspan><tspan x="2222" dy="17.6">样的信念，一批为大众所熟知的科学家、投资</tspan><tspan x="2222" dy="17.6">人和企业家们搭起了梦想和现实之间的"最后</tspan><tspan x="2222" dy="17.6">一英里"——构成这"最后一英里"的并非冷硬</tspan><tspan x="2222" dy="17.6">的电缆和光纤，而是对科学的专注和对社会的</tspan><tspan x="2222" dy="17.6">关怀。</tspan></text></g>
<g id="n-j3"><rect class="tb" x="2214" y="2024" width="290" height="155" rx="6"/><text class="t" x="2222" y="2044"><tspan x="2222">而未来科学大奖，旨在"启蒙科学精神、唤起</tspan><tspan x="2222" dy="17.6">科学热情，影响社会风尚，吸引更多青年投身</tspan><tspan x="2222" dy="17.6">于科学"。奖励在大中华地区做出杰出贡献的</tspan><tspan x="2222" dy="17.6">科学家，让科学家成为偶像和时代英雄;同时</tspan><tspan x="2222" dy="17.6">鼓励中国的年青人与孩童，以科学的态度和向</tspan><tspan x="2222" dy="17.6">往，闯进新世界，成为未来的脊梁，进而推动</tspan><tspan x="2222" dy="17.6">中国科学事业的发展，提升中国公民的科学素</tspan><tspan x="2222" dy="17.6">养，建立科学观。</tspan></text></g>
<g id="n-j4"><rect class="tb" x="2214" y="2209" width="232" height="31" rx="6"/><text class="t" x="2222" y="2230">"骑牛上学"，传承国学别走错了路</text></g>
<g id="n-j5"><rect class="tb" x="2214" y="2268" width="290" height="49" rx="6"/><text class="t" x="2222" y="2288"><tspan x="2222">传承国学需要传承的是精神内涵，是文化素养</tspan><tspan x="2222" dy="17.6">，而不是形式主义。</tspan></text></g>
<g id="n-j6"><rect class="tb" x="2214" y="2344" width="290" height="137" rx="6"/><text class="t" x="2222" y="2364"><tspan x="2222">从去年冬天儿子上幼儿园开始，只要有空，成</tspan><tspan x="2222" dy="17.6">都人李里就会牵上牛或者驴接送孩子，途中带</tspan><tspan x="2222" dy="17.6">孩子背诵古诗词经典，"沟通了人、物与自然</tspan><tspan x="2222" dy="17.6">，父与子的感情。"李里平时醉心国学，"我觉</tspan><tspan x="2222" dy="17.6">得，传统文化应该贯穿到我们的衣食住行当中</tspan><tspan x="2222" dy="17.6">。"而骑牛或者骑驴，在他看来，便是在"行"</tspan><tspan x="2222" dy="17.6">方面的尝试。</tspan></text></g>
<g id="n-j7"><rect class="tb" x="2214" y="2513" width="290" height="120" rx="6"/><text class="t" x="2222" y="2533"><tspan x="2222">不得不说，我被这位父亲的爱子情怀深深感动</tspan><tspan x="2222" dy="17.6">，能够坚持上学、放学接送孩子，足以显现浓</tspan><tspan x="2222" dy="17.6">浓父爱。从爱子的角度，这位父亲是称职的，</tspan><tspan x="2222" dy="17.6">牵着牛或是牵着驴接送孩子，需要多大勇气?</tspan><tspan x="2222" dy="17.6">没有对儿子浓烈的爱是做不到的。但是，对于</tspan><tspan x="2222" dy="17.6">"骑牛上学"还是且慢叫好。</tspan></text></g>
<g id="n-j8"><rect class="tb" x="2214" y="2663" width="290" height="137" rx="6"/><text class="t" x="2222" y="2683"><tspan x="2222">"骑牛上学"也罢，"骑驴上学"也好，在古时候</tspan><tspan x="2222" dy="17.6">没有丝毫问题，放在眼下这个交通环境里来说</tspan><tspan x="2222" dy="17.6">，显得格格不入。城市是拥堵的，城市是繁华</tspan><tspan x="2222" dy="17.6">的，在如今的城市里，有人牵着牛和驴，到学</tspan><tspan x="2222" dy="17.6">校接送孩子，很另类，这就容易引起围观，造</tspan><tspan x="2222" dy="17.6">成道路的拥堵，不利于交通疏导。对于城市的</tspan><tspan x="2222" dy="17.6">管理来说，不该宽容"骑牛上学"。</tspan></text></g>
<g id="n-j9"><rect class="tb" x="2214" y="2829" width="290" height="137" rx="6"/><text class="t" x="2222" y="2849"><tspan x="2222">"骑牛上学"和传承国学没有半点关系。传承国</tspan><tspan x="2222" dy="17.6">学需要传承的是精神内涵，是文化素养，而不</tspan><tspan x="2222" dy="17.6">是形式主义。否则，按照这位父亲的理论，难</tspan><tspan x="2222" dy="17.6">道在传承国学的时候，我们的孩子都不能穿这</tspan><tspan x="2222" dy="17.6">个时代的衣裳了，难道都必须换上"长袍马褂"</tspan><tspan x="2222" dy="17.6">，必须留着"古代发型"吗?这岂不是十分可笑</tspan><tspan x="2222" dy="17.6">的事情!</tspan></text></g>
<g id="n-j10"><rect class="tb" x="2214" y="2993" width="290" height="155" rx="6"/><text class="t" x="2222" y="3013"><tspan x="2222">我倒是觉得，让孩子"骑牛上学"，对于孩子来</tspan><tspan x="2222" dy="17.6">说，影响并不见得好。别的孩子都采用正常的</tspan><tspan x="2222" dy="17.6">交通工具，"骑牛上学"的孩子就显得十分扎眼</tspan><tspan x="2222" dy="17.6">和另类，在学校里是不是会成为被取笑的对象</tspan><tspan x="2222" dy="17.6">?如果是这样，必然会影响孩子的心理健康。</tspan><tspan x="2222" dy="17.6">想起一个极端的"国学传承人"，他每天都"穿</tspan><tspan x="2222" dy="17.6">着古代服装"乘坐公共汽车，结果很多人躲避</tspan><tspan x="2222" dy="17.6">得远远的。</tspan></text></g>
<g id="n-j11"><rect class="tb" x="2214" y="3177" width="290" height="49" rx="6"/><text class="t" x="2222" y="3197"><tspan x="2222">如此传承国学，是走错了路子，不仅不利于传</tspan><tspan x="2222" dy="17.6">承国学，反而会让人们有了抵触情绪。</tspan></text></g>

<g id="n-xg"><rect class="nd" x="1815" y="3524" width="304" height="39" rx="19.5"/><text class="nt" x="1967" y="3550">高考作文备考复习策略相关文章：</text></g>
<g id="n-x1"><rect class="tb" x="2147" y="3256" width="223" height="30" rx="6"/><text class="t" x="2155" y="3276">★ 2021高考语文复习技巧以及建议</text></g>
<g id="n-x2"><rect class="tb" x="2147" y="3317" width="250" height="30" rx="6"/><text class="t" x="2155" y="3337">★ 高考语文超实用的备考原则2021最新</text></g>
<g id="n-x3"><rect class="tb" x="2147" y="3377" width="250" height="30" rx="6"/><text class="t" x="2155" y="3397">★ 2021最好用的高考语文复习方法分享</text></g>
<g id="n-x4"><rect class="tb" x="2147" y="3438" width="223" height="30" rx="6"/><text class="t" x="2155" y="3458">★ 2021语文高考备考建议经验分享</text></g>
<g id="n-x5"><rect class="tb" x="2147" y="3498" width="208" height="30" rx="6"/><text class="t" x="2155" y="3518">★ 2021年高考语文备考建议参考</text></g>
<g id="n-x6"><rect class="tb" x="2147" y="3559" width="238" height="30" rx="6"/><text class="t" x="2155" y="3579">★ 高考高三三轮复习方法及策略2021</text></g>
<g id="n-x7"><rect class="tb" x="2147" y="3620" width="238" height="30" rx="6"/><text class="t" x="2155" y="3640">★ 2021语文的高考备考建议经验分享</text></g>
<g id="n-x8"><rect class="tb" x="2147" y="3680" width="205" height="30" rx="6"/><text class="t" x="2155" y="3700">★ 高中语文详细的学习方法建议</text></g>
<g id="n-x9"><rect class="tb" x="2147" y="3741" width="250" height="30" rx="6"/><text class="t" x="2155" y="3761">★ 系统化的高三语文备考学习方法2021</text></g>
<g id="n-x10"><rect class="tb" x="2147" y="3802" width="191" height="30" rx="6"/><text class="t" x="2155" y="3822">★ 高考语文寒假复习备考方法</text></g>

<g id="watermarks" class="wm">
<text transform="translate(334 750) rotate(-33)"><tspan class="wc">树图</tspan><tspan class="ws" dx="30">shutu.cn</tspan></text>
<text transform="translate(334 1750) rotate(-33)"><tspan class="wc">树图</tspan><tspan class="ws" dx="30">shutu.cn</tspan></text>
<text transform="translate(334 2750) rotate(-33)"><tspan class="wc">树图</tspan><tspan class="ws" dx="30">shutu.cn</tspan></text>
<text transform="translate(334 3750) rotate(-33)"><tspan class="wc">树图</tspan><tspan class="ws" dx="30">shutu.cn</tspan></text>
<text transform="translate(334 4750) rotate(-33)"><tspan class="wc">树图</tspan><tspan class="ws" dx="30">shutu.cn</tspan></text>
<text transform="translate(334 5750) rotate(-33)"><tspan class="wc">树图</tspan><tspan class="ws" dx="30">shutu.cn</tspan></text>
<text transform="translate(1575 780) rotate(-33)"><tspan class="wc">树图</tspan><tspan class="ws" dx="30">shutu.cn</tspan></text>
<text transform="translate(1575 1780) rotate(-33)"><tspan class="wc">树图</tspan><tspan class="ws" dx="30">shutu.cn</tspan></text>
<text transform="translate(1575 2780) rotate(-33)"><tspan class="wc">树图</tspan><tspan class="ws" dx="30">shutu.cn</tspan></text>
<text transform="translate(1575 3780) rotate(-33)"><tspan class="wc">树图</tspan><tspan class="ws" dx="30">shutu.cn</tspan></text>
<text transform="translate(1575 4780) rotate(-33)"><tspan class="wc">树图</tspan><tspan class="ws" dx="30">shutu.cn</tspan></text>
<text transform="translate(1575 5780) rotate(-33)"><tspan class="wc">树图</tspan><tspan class="ws" dx="30">shutu.cn</tspan></text>
</g>
</g>
</svg>
